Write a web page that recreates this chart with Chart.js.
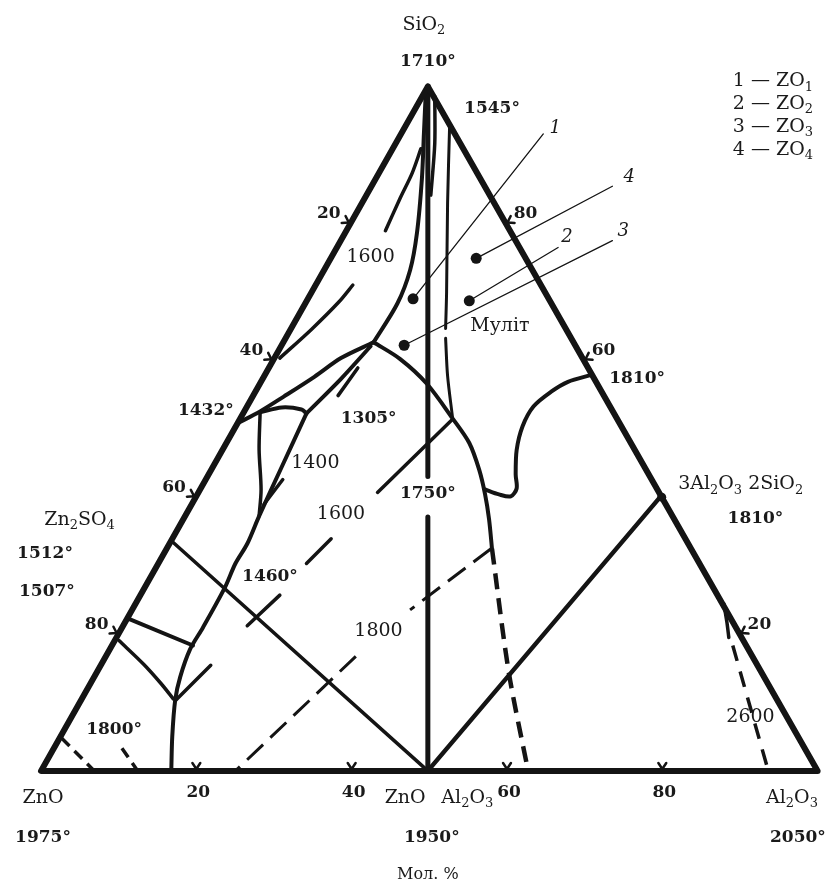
<!DOCTYPE html>
<html lang="uk">
<head>
<meta charset="UTF-8">
<title>Діаграма ZnO – Al2O3 – SiO2</title>
<script src="https://cdn.jsdelivr.net/npm/chart.js"></script>
<style>
    html, body { margin: 0; padding: 0; background: #fff; }
    #wrap { width: 833px; height: 889px; }
</style>
</head>
<body>
<div id="wrap"><canvas id="diagram" width="833" height="889"></canvas></div>
<script>
// frame: x 0..833 to the right, y 0..889 downwards (same frame as the drawing)
const vZnO = [36, 775];
const vAl2O3 = [823, 775];
const vSiO2 = [428, 82];

// tick values on each side, mol. %
const leftTicks = [20, 40, 60, 80];   // ZnO on the SiO2 - ZnO side
const rightTicks = [80, 60, 20];      // SiO2 on the SiO2 - Al2O3 side
const baseTicks = [20, 40, 60, 80];   // Al2O3 on the ZnO - Al2O3 side
const mulliteSiO2 = 40;

// boundary curves
const joinZnAl2O4 = [[428, 82], [428, 477]];
const joinZnAl2O4low = [[428, 518], [428, 775]];
const silicaBorder = [[426, 86], [424, 130], [422, 175], [417, 230], [410, 268], [397, 302], [373, 341]];
const apexLineB = [[435, 92], [435, 140], [431, 192]];
const apexLineC = [[450, 124], [448, 200], [447, 290], [446, 327]];
const apexLineC2 = [[446, 337], [448, 375], [453, 417]];
const iso1600top = [[385, 228], [400, 195], [412, 170], [421, 145]];
const iso1600left = [[352, 283], [338, 300], [310, 328], [278, 357]];
const mainBoundary = [[373, 341], [400, 358], [427, 383], [453, 418], [470, 443], [480, 470], [486, 495], [490, 520], [493, 550]];
const mainBoundaryDash = [[493, 550], [510, 675], [530, 777]];
const mulliteBorder = [[594, 374], [570, 381], [553, 391], [535, 406], [524, 426], [518, 450], [517, 475], [518, 489], [512, 497], [500, 495], [486, 490]];
const eutToEdge = [[373, 341], [340, 357], [313, 376], [282, 396], [258, 411], [235, 423]];
const eutToTri = [[370, 345], [340, 378], [305, 413]];
const arrowA = [[357, 367], [337, 395]];
const triTop = [[258, 412], [280, 407], [300, 409], [305, 413]];
const triLeft = [[258, 413], [257, 450], [259, 490], [257, 517]];
const willemiteBorder = [[305, 413], [280, 467], [257, 517], [245, 545], [233, 565], [222, 590], [200, 630], [187, 652], [177, 680], [172, 703], [169, 740], [168, 775]];
const arrowB = [[281, 480], [262, 505]];
const joinZn2SiO4 = [[168, 542], [428, 775]];
const line1507 = [[125, 621], [190, 648]];
const line80 = [[115, 643], [140, 667], [158, 687], [170, 702]];
const arrowC = [[173, 703], [208, 668]];
const iso1600a = [[452, 420], [377, 493]];
const iso1600b = [[330, 540], [305, 565]];
const iso1600c = [[278, 597], [245, 628]];
const iso1800a = [[492, 550], [410, 612]];
const iso1800b = [[355, 659], [233, 775]];
const cornerDash1 = [[57, 742], [90, 775]];
const cornerDash2 = [[118, 752], [134, 775]];
const joinMullite = [[428, 775], [664, 497]];
const aluminaHook = [[728, 606], [731, 624], [733, 640]];
const aluminaDash = [[737, 648], [773, 775]];

// compositions ZO1..ZO4 and the label ends of their leaders
const pointNames = ['1', '2', '3', '4'];
const pointXY = [[413, 297], [470, 299], [404, 344], [477, 256]];
const leaderEnd = [[545, 130], [560, 245], [615, 238], [615, 183]];

// texts: [text, x, y, kind]; _n marks a subscript
const texts = [
    ['SiO_2', 424, 20, 'r'], ['1710°', 428, 57, 'b'], ['1545°', 493, 104, 'b'],
    ['1', 557, 124, 'i'], ['4', 632, 174, 'i'], ['2', 569, 235, 'i'], ['3', 626, 229, 'i'],
    ['1600', 370, 255, 'r'], ['Муліт', 501, 325, 'r'],
    ['1810°', 640, 378, 'b'], ['1432°', 203, 410, 'b'], ['1305°', 368, 418, 'b'],
    ['1400', 314, 463, 'r'], ['1750°', 428, 494, 'b'], ['3Al_2O_3 2SiO_2', 745, 485, 'r'],
    ['1810°', 760, 520, 'b'], ['Zn_2SO_4', 75, 521, 'r'], ['1600', 340, 515, 'r'],
    ['1512°', 40, 555, 'b'], ['1460°', 268, 578, 'b'], ['1507°', 42, 593, 'b'],
    ['1800', 378, 633, 'r'], ['1800°', 110, 733, 'b'], ['2600', 755, 720, 'r'],
    ['ZnO', 38, 802, 'r'], ['ZnO', 405, 802, 'r'], ['Al_2O_3', 468, 802, 'r'], ['Al_2O_3', 797, 802, 'r'],
    ['1975°', 38, 842, 'b'], ['1950°', 432, 842, 'b'], ['2050°', 803, 842, 'b'],
    ['Мол. %', 428, 880, 's']
];
const legendRows = ['1 — ZO_1', '2 — ZO_2', '3 — ZO_3', '4 — ZO_4'];

function along(a, b, v) {
    return [a[0] + (b[0] - a[0]) * v / 100, a[1] + (b[1] - a[1]) * v / 100];
}
function pts(arr) {
    return arr.map(p => ({ x: p[0], y: p[1] }));
}
function line(arr, w, dash, tension) {
    return {
        data: pts(arr), showLine: true, borderColor: '#141414', borderWidth: w,
        borderDash: dash || [], borderCapStyle: dash ? 'butt' : 'round', borderJoinStyle: 'round',
        tension: tension === undefined ? 0.3 : tension, pointRadius: 0, fill: false
    };
}
// small fork marks at the ticks
function tickMark(p, edgeDir, inward) {
    const d = [edgeDir[0] * 4, edgeDir[1] * 4];
    const n = [inward[0] * 8, inward[1] * 8];
    return [[p[0] + d[0] + n[0], p[1] + d[1] + n[1]], [p[0] + inward[0] * 2, p[1] + inward[1] * 2], [p[0] - d[0] + n[0], p[1] - d[1] + n[1]]];
}
function unit(a, b) {
    const dx = b[0] - a[0], dy = b[1] - a[1], l = Math.hypot(dx, dy);
    return [dx / l, dy / l];
}

const dL = unit(vSiO2, vZnO), nL = [-dL[1], dL[0]];
const dR = unit(vAl2O3, vSiO2), nR = [-dR[1], dR[0]];
const dB = [1, 0], nB = [0, -1];
const leftPos = leftTicks.map(v => along(vSiO2, vZnO, v));
const rightPos = rightTicks.map(v => along(vAl2O3, vSiO2, v));
const basePos = baseTicks.map(v => along(vZnO, vAl2O3, v));

const datasets = [
    line([vSiO2, vZnO, vAl2O3, vSiO2], 6, null, 0),
    line(joinZnAl2O4, 5, null, 0), line(joinZnAl2O4low, 5, null, 0),
    line(silicaBorder, 4), line(apexLineB, 3.5), line(apexLineC, 3), line(apexLineC2, 3),
    line(iso1600top, 3.5), line(iso1600left, 3.5),
    line(mainBoundary, 4), line(mainBoundaryDash, 4.5, [16, 9]), line(mulliteBorder, 4),
    line(eutToEdge, 4), line(eutToTri, 4), line(arrowA, 3.5, null, 0),
    line(triTop, 4), line(triLeft, 3.5), line(willemiteBorder, 4), line(arrowB, 3.5, null, 0),
    line(joinZn2SiO4, 3.5, null, 0), line(line1507, 4, null, 0), line(line80, 3.5), line(arrowC, 3.5, null, 0),
    line(iso1600a, 3.5, null, 0), line(iso1600b, 3.5, null, 0), line(iso1600c, 3.5, null, 0),
    line(iso1800a, 3, [22, 10], 0), line(iso1800b, 3, [22, 10], 0),
    line(cornerDash1, 3.5, [11, 7], 0), line(cornerDash2, 3.5, [11, 7], 0),
    line(joinMullite, 4.5, null, 0), line(aluminaHook, 3.5), line(aluminaDash, 3.5, [16, 11], 0)
];
leftPos.forEach(p => datasets.push(line(tickMark(p, dL, nL), 2.5, null, 0)));
rightPos.forEach(p => datasets.push(line(tickMark(p, dR, nR), 2.5, null, 0)));
basePos.forEach(p => datasets.push(line(tickMark(p, dB, nB), 2.5, null, 0)));
pointXY.forEach((p, i) => datasets.push(line([p, leaderEnd[i]], 1.3, null, 0)));
datasets.push({
    data: pts(pointXY), showLine: false, pointRadius: 5.5, pointBackgroundColor: '#141414',
    pointBorderWidth: 0
});
datasets.push({
    data: pts([along(vAl2O3, vSiO2, mulliteSiO2)]), showLine: false, pointRadius: 4.5,
    pointBackgroundColor: '#141414', pointBorderWidth: 0
});

const fonts = {
    r: ['normal', 19], b: ['bold', 17], i: ['italic', 18], s: ['normal', 16]
};

function drawRich(ctx, text, x, y, kind, align) {
    const [style, size] = fonts[kind];
    const base = (style === 'italic' ? 'italic ' : '') + (style === 'bold' ? 'bold ' : '');
    const parts = [];
    let i = 0;
    while (i < text.length) {
        if (text[i] === '_') { parts.push([text[i + 1], true]); i += 2; }
        else {
            let j = i;
            while (j < text.length && text[j] !== '_') j++;
            parts.push([text.slice(i, j), false]); i = j;
        }
    }
    const fBig = base + size + 'px "DejaVu Serif"';
    const fSub = base + Math.round(size * 0.7) + 'px "DejaVu Serif"';
    let total = 0;
    parts.forEach(p => { ctx.font = p[1] ? fSub : fBig; total += ctx.measureText(p[0]).width; });
    let cx = align === 'left' ? x : x - total / 2;
    ctx.textBaseline = 'middle';
    ctx.textAlign = 'left';
    parts.forEach(p => {
        ctx.font = p[1] ? fSub : fBig;
        ctx.fillText(p[0], cx, p[1] ? y + size * 0.3 : y);
        cx += ctx.measureText(p[0]).width;
    });
}

const textPlugin = {
    id: 'texts',
    afterDatasetsDraw(chart) {
        const ctx = chart.ctx;
        const sx = chart.scales.x, sy = chart.scales.y;
        ctx.save();
        ctx.fillStyle = '#1a1a1a';
        texts.forEach(t => drawRich(ctx, t[0], sx.getPixelForValue(t[1]), sy.getPixelForValue(t[2]), t[3]));
        leftTicks.forEach((v, k) => drawRich(ctx, String(v), sx.getPixelForValue(leftPos[k][0] - 22), sy.getPixelForValue(leftPos[k][1] - 10), 'b'));
        rightTicks.forEach((v, k) => drawRich(ctx, String(v), sx.getPixelForValue(rightPos[k][0] + 20), sy.getPixelForValue(rightPos[k][1] - 10), 'b'));
        baseTicks.forEach((v, k) => drawRich(ctx, String(v), sx.getPixelForValue(basePos[k][0] + 2), sy.getPixelForValue(basePos[k][1] + 22), 'b'));
        legendRows.forEach((t, k) => drawRich(ctx, t, sx.getPixelForValue(737), sy.getPixelForValue(77 + k * 23), 'r', 'left'));
        ctx.restore();
    }
};

new Chart(document.getElementById('diagram').getContext('2d'), {
    type: 'scatter',
    data: { datasets: datasets },
    options: {
        responsive: false,
        animation: false,
        layout: { padding: 0 },
        scales: {
            x: { type: 'linear', min: 0, max: 833, display: false },
            y: { type: 'linear', min: 0, max: 889, reverse: true, display: false }
        },
        plugins: { legend: { display: false }, tooltip: { enabled: false } }
    },
    plugins: [textPlugin]
});
</script>
</body>
</html>
